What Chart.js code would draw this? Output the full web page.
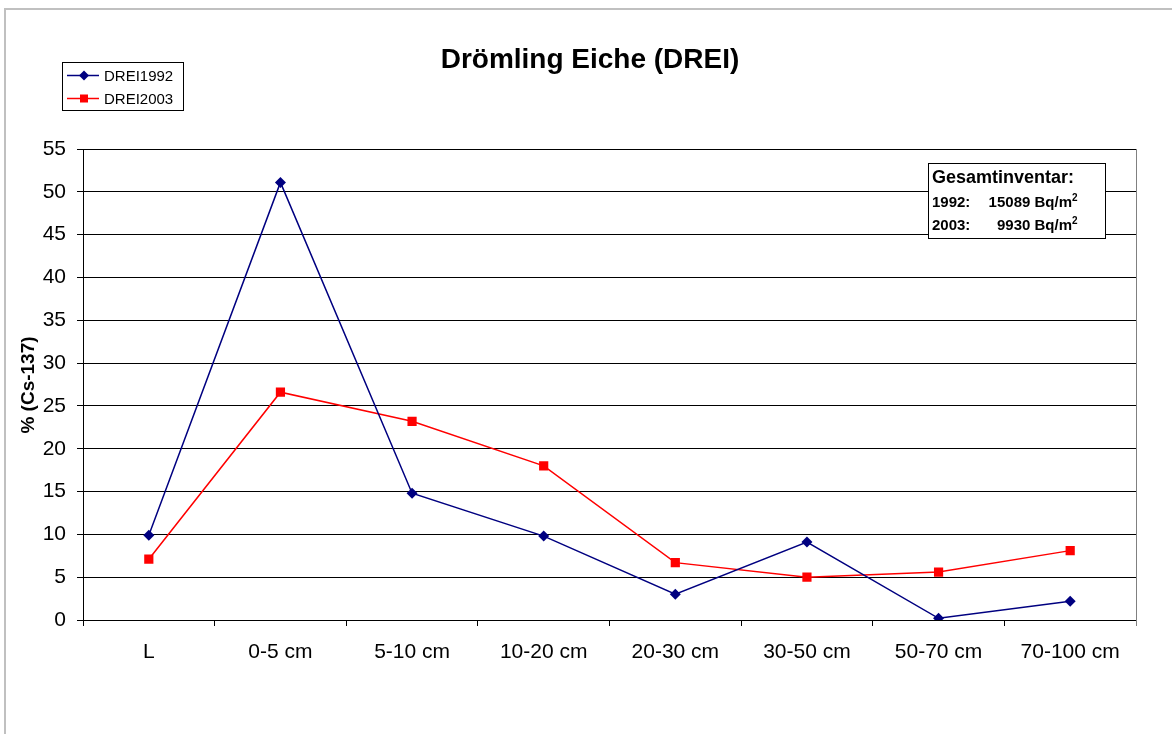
<!DOCTYPE html>
<html>
<head>
<meta charset="utf-8">
<script src="https://cdn.jsdelivr.net/npm/chart.js@4"></script>
<style>
html,body{margin:0;padding:0;background:#fff;}
#wrap{width:1172px;height:734px;position:relative;}
</style>
</head>
<body>
<div id="wrap"><canvas id="c" width="1172" height="734"></canvas></div>
<script>
const categories = ["L", "0-5 cm", "5-10 cm", "10-20 cm", "20-30 cm", "30-50 cm", "50-70 cm", "70-100 cm"];
const drei1992 = [9.9, 51.1, 14.8, 9.8, 3.0, 9.1, 0.2, 2.2];
const drei2003 = [7.1, 26.6, 23.2, 18.0, 6.7, 5.0, 5.6, 8.1];
const yTicks = [0, 5, 10, 15, 20, 25, 30, 35, 40, 45, 50, 55];
const titleText = "Drömling Eiche (DREI)";
const yTitle = "% (Cs-137)";
const inventoryHead = "Gesamtinventar:";
const inventoryRows = [["1992:", "15089 Bq/m"], ["2003:", "9930 Bq/m"]];

const FONT = "'Liberation Sans', Arial, sans-serif";

const decor = {
  id: 'decor',
  beforeDraw(chart) {
    const ctx = chart.ctx;
    ctx.save();
    ctx.fillStyle = '#fff';
    ctx.fillRect(0, 0, chart.width, chart.height);
    ctx.strokeStyle = '#c0c0c0';
    ctx.lineWidth = 2;
    ctx.strokeRect(5, 9, chart.width + 10, chart.height + 10);
    ctx.restore();
  },
  beforeDatasetsDraw(chart) {
    const ctx = chart.ctx, a = chart.chartArea;
    ctx.save();
    ctx.strokeStyle = '#808080';
    ctx.lineWidth = 1;
    ctx.beginPath();
    ctx.moveTo(Math.round(a.right) + 0.5, a.top);
    ctx.lineTo(Math.round(a.right) + 0.5, a.bottom + 6);
    ctx.stroke();
    ctx.restore();
  },
  afterDraw(chart) {
    const ctx = chart.ctx;
    ctx.save();
    // title
    ctx.fillStyle = '#000';
    ctx.font = 'bold 28px ' + FONT;
    ctx.textAlign = 'center';
    ctx.textBaseline = 'middle';
    ctx.fillText(titleText, 590, 60);
    // y title
    ctx.save();
    ctx.translate(29, 385);
    ctx.rotate(-Math.PI / 2);
    ctx.font = 'bold 19px ' + FONT;
    ctx.fillText(yTitle, 0, 0);
    ctx.restore();
    // legend
    ctx.fillStyle = '#fff';
    ctx.fillRect(62, 62, 121, 48);
    ctx.strokeStyle = '#000';
    ctx.lineWidth = 1;
    ctx.strokeRect(62.5, 62.5, 121, 48);
    chart.data.datasets.forEach((ds, i) => {
      const y = 75.5 + i * 23;
      ctx.strokeStyle = ds.borderColor;
      ctx.lineWidth = 1.5;
      ctx.beginPath(); ctx.moveTo(67, y); ctx.lineTo(99, y); ctx.stroke();
      ctx.fillStyle = ds.pointBackgroundColor;
      if (ds.pointStyle === 'rectRot') {
        ctx.beginPath();
        ctx.moveTo(84, y - 5); ctx.lineTo(89, y); ctx.lineTo(84, y + 5); ctx.lineTo(79, y);
        ctx.closePath(); ctx.fill();
      } else {
        ctx.fillRect(80, y - 4, 8, 8);
      }
      ctx.fillStyle = '#000';
      ctx.font = '15px ' + FONT;
      ctx.textAlign = 'left';
      ctx.textBaseline = 'middle';
      ctx.fillText(ds.label, 104, y + 1);
    });
    // inventory box
    ctx.fillStyle = '#fff';
    ctx.fillRect(928, 163, 178, 76);
    ctx.strokeStyle = '#000';
    ctx.lineWidth = 1;
    ctx.strokeRect(928.5, 163.5, 177, 75);
    ctx.fillStyle = '#000';
    ctx.textAlign = 'left';
    ctx.textBaseline = 'alphabetic';
    ctx.font = 'bold 18px ' + FONT;
    ctx.fillText(inventoryHead, 932, 183);
    inventoryRows.forEach((r, i) => {
      const y = 207 + i * 23;
      ctx.font = 'bold 15px ' + FONT;
      ctx.textAlign = 'left';
      ctx.fillText(r[0], 932, y);
      ctx.textAlign = 'right';
      ctx.fillText(r[1], 1072, y);
      ctx.textAlign = 'left';
      ctx.font = 'bold 10px ' + FONT;
      ctx.fillText('2', 1072, y - 6);
    });
    ctx.restore();
  }
};

new Chart(document.getElementById('c'), {
  type: 'line',
  data: {
    labels: categories,
    datasets: [
      {
        label: 'DREI1992', data: drei1992,
        borderColor: '#000080', backgroundColor: '#000080',
        pointBackgroundColor: '#000080', pointBorderColor: '#000080',
        pointStyle: 'rectRot', pointRadius: 5.5, pointBorderWidth: 0,
        borderWidth: 1.5, tension: 0
      },
      {
        label: 'DREI2003', data: drei2003,
        borderColor: '#ff0000', backgroundColor: '#ff0000',
        pointBackgroundColor: '#ff0000', pointBorderColor: '#ff0000',
        pointStyle: 'rect', pointRadius: 6.5, pointBorderWidth: 0,
        borderWidth: 1.5, tension: 0
      }
    ]
  },
  options: {
    responsive: false,
    animation: false,
    devicePixelRatio: 1,
    layout: { padding: { left: 0, right: 36, top: 149, bottom: 54 } },
    plugins: { legend: { display: false }, title: { display: false }, tooltip: { enabled: false } },
    scales: {
      x: {
        type: 'category',
        offset: true,
        grid: { display: true, drawOnChartArea: false, offset: true, tickLength: 6, color: '#000', tickColor: '#000' },
        border: { display: true, color: '#000', width: 1 },
        ticks: { color: '#000', font: { family: FONT, size: 21 }, padding: 14, maxRotation: 0, autoSkip: false },
        afterFit(s) { s.height = 60; }
      },
      y: {
        min: 0, max: 55,
        afterBuildTicks(s) { s.ticks = yTicks.map(v => ({ value: v })); },
        grid: { color: '#000', tickLength: 6, tickColor: '#000' },
        border: { display: true, color: '#000', width: 1 },
        ticks: { color: '#000', font: { family: FONT, size: 21 }, padding: 11 },
        afterFit(s) { s.width = 83; }
      }
    }
  },
  plugins: [decor]
});
</script>
</body>
</html>
